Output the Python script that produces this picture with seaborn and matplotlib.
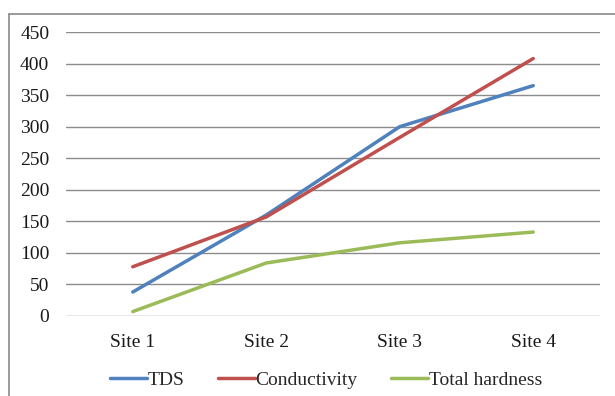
import matplotlib
matplotlib.use("Agg")
import matplotlib.pyplot as plt
from matplotlib.lines import Line2D
import pandas as pd
import seaborn as sns

sites = ["Site 1", "Site 2", "Site 3", "Site 4"]
tds = [38, 160, 300, 365]
conductivity = [78, 157, 283, 408]
total_hardness = [7, 84, 116, 133]
series_names = ["TDS", "Conductivity", "Total hardness"]
y_ticks = [0, 50, 100, 150, 200, 250, 300, 350, 400, 450]

df = pd.DataFrame({
    "site": sites * 3,
    "value": tds + conductivity + total_hardness,
    "parameter": [n for n in series_names for _ in sites],
})

sns.set_theme(style="white")
plt.rcParams["font.family"] = ["Liberation Serif", "DejaVu Serif"]

W, H = 615, 396
fig = plt.figure(figsize=(W / 100, H / 100), dpi=100)
ax = fig.add_axes([66 / W, (H - 316) / H, (600 - 66) / W, (316 - 32) / H])

palette = {"TDS": "#4F81BD", "Conductivity": "#C0504D", "Total hardness": "#9BBB59"}
sns.lineplot(data=df, x="site", y="value", hue="parameter", palette=palette,
             sort=False, linewidth=2.5, ax=ax, legend=False)

ax.set_xlim(-0.5, len(sites) - 0.5)
ax.set_ylim(0, 450)
ax.set_yticks(y_ticks)
ax.set_xlabel("")
ax.set_ylabel("")
for s in ax.spines.values():
    s.set_visible(False)
ax.yaxis.grid(True, color="#8c8c8c", linewidth=1.0)
ax.xaxis.grid(False)
ax.set_axisbelow(True)
ax.tick_params(axis="y", length=0, pad=12, labelsize=14, colors="#1a1a1a")
ax.tick_params(axis="x", length=0, pad=13, labelsize=14, colors="#1a1a1a")

# outer chart frame (top and left edges)
fig.add_artist(Line2D([9 / W, 1.0], [(H - 14) / H, (H - 14) / H],
                      transform=fig.transFigure, color="#8a8a8a", linewidth=1.2))
fig.add_artist(Line2D([9 / W, 9 / W], [0.0, (H - 14) / H],
                      transform=fig.transFigure, color="#8a8a8a", linewidth=1.2))

handles = [Line2D([0], [0], color=palette[n], linewidth=2.5) for n in series_names]
fig.legend(handles, series_names, loc="center", ncol=3, frameon=False,
           bbox_to_anchor=(326 / W, (H - 380) / H), fontsize=14,
           handlelength=1.9, handletextpad=0.05, columnspacing=1.7)

fig.savefig("out.png", dpi=100)
